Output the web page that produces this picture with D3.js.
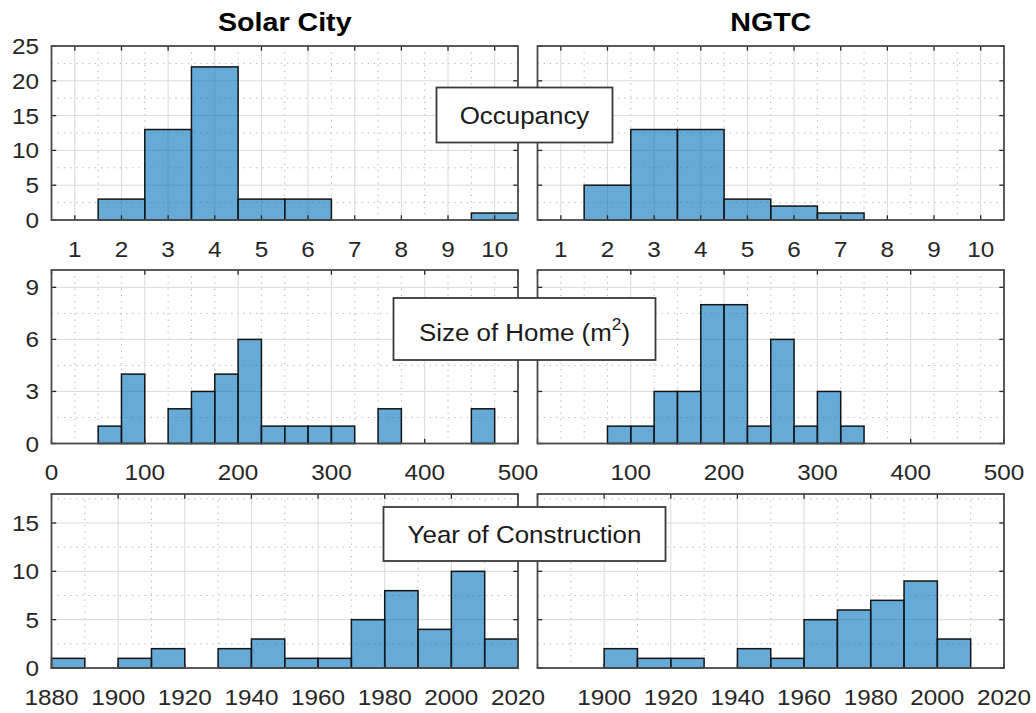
<!DOCTYPE html>
<html>
<head>
<meta charset="utf-8">
<script src="https://cdn.jsdelivr.net/npm/d3@7"></script>
<style>
  html, body { margin: 0; padding: 0; background: #ffffff; }
  svg { display: block; font-family: "Liberation Sans", Arial, Helvetica, sans-serif; }
</style>
</head>
<body>
<svg id="chart" width="1036" height="713"></svg>
<script>
// ---------------- data ----------------
const titles = ["Solar City", "NGTC"];
const rowLabels = ["Occupancy", "Size of Home (m", "Year of Construction"];

// Occupancy (bins centred on integers, width 1)
const occCenters = [1, 2, 3, 4, 5, 6, 7, 8, 9, 10];
const occSolar   = [0, 3, 13, 22, 3, 3, 0, 0, 0, 1];
const occNGTC    = [0, 5, 13, 13, 3, 2, 1, 0, 0, 0];
const occTicks   = [1, 2, 3, 4, 5, 6, 7, 8, 9, 10];
const occYTicks  = [0, 5, 10, 15, 20, 25];

// Size of home (bin left edges, width 25 m2)
const sizeEdges = [0, 25, 50, 75, 100, 125, 150, 175, 200, 225, 250, 275, 300, 325, 350, 375, 400, 425, 450, 475];
const sizeSolar = [0, 0, 1, 4, 0, 2, 3, 4, 6, 1, 1, 1, 1, 0, 2, 0, 0, 0, 2, 0];
const sizeNGTC  = [0, 0, 0, 1, 1, 3, 3, 8, 8, 1, 6, 1, 3, 1, 0, 0, 0, 0, 0, 0];
const sizeTicks = [0, 100, 200, 300, 400, 500];
const sizeYTicks = [0, 3, 6, 9];

// Year of construction (bin left edges, width 10 years)
const yearEdges = [1880, 1890, 1900, 1910, 1920, 1930, 1940, 1950, 1960, 1970, 1980, 1990, 2000, 2010];
const yearSolar = [1, 0, 1, 2, 0, 2, 3, 1, 1, 5, 8, 4, 10, 3];
const yearNGTC  = [0, 0, 2, 1, 1, 0, 2, 1, 5, 6, 7, 9, 3, 0];
const yearTicks = [1880, 1900, 1920, 1940, 1960, 1980, 2000, 2020];
const yearYTicks = [0, 5, 10, 15];

// ---------------- layout ----------------
const SX = 1.08;                       // horizontal text stretch of the reference
const colX = [[51.5, 518], [537.5, 1004]];
const rowY = [[46, 220], [270, 443.5], [494, 668]];
const boxCfg = [
  {cy: 115, w: 176, h: 55, base: 124},
  {cy: 329, w: 262, h: 62, base: 341},
  {cy: 534, w: 282, h: 54, base: 542.5}
];

const rows = [
  { xd: [0.5, 10.5], yd: [0, 25], ticks: occTicks, yticks: occYTicks,
    minorX: d3.range(1.5, 10.5, 1), minorY: [2.5, 7.5, 12.5, 17.5, 22.5],
    bins: occCenters.map(c => [c - 0.5, c + 0.5]), series: [occSolar, occNGTC] },
  { xd: [0, 500], yd: [0, 10], ticks: sizeTicks, yticks: sizeYTicks,
    minorX: d3.range(25, 500, 25).filter(v => v % 100 !== 0), minorY: [1.5, 4.5, 7.5],
    bins: sizeEdges.map(e => [e, e + 25]), series: [sizeSolar, sizeNGTC] },
  { xd: [1880, 2020], yd: [0, 18], ticks: yearTicks, yticks: yearYTicks,
    minorX: d3.range(1890, 2020, 20), minorY: [2.5, 7.5, 12.5, 17.5],
    bins: yearEdges.map(e => [e, e + 10]), series: [yearSolar, yearNGTC] }
];

const svg = d3.select("#chart");

function stretchedText(g, x, y, txt, opts) {
  const t = g.append("text")
    .attr("transform", `translate(${x},${y}) scale(${SX},1)`)
    .attr("text-anchor", opts.anchor || "middle")
    .attr("font-size", opts.size)
    .attr("font-weight", opts.weight || "normal")
    .attr("fill", opts.fill || "#262626")
    .text(txt);
  return t;
}

rows.forEach((row, ri) => {
  [0, 1].forEach(ci => {
    const [x0, x1] = colX[ci];
    const [y0, y1] = rowY[ri];
    const x = d3.scaleLinear().domain(row.xd).range([x0, x1]);
    const y = d3.scaleLinear().domain(row.yd).range([y1, y0]);
    const g = svg.append("g");

    // background
    g.append("rect").attr("x", x0).attr("y", y0).attr("width", x1 - x0).attr("height", y1 - y0)
      .attr("fill", "#ffffff");

    // minor grid (dotted)
    g.selectAll(".mgx").data(row.minorX).enter().append("line")
      .attr("x1", d => x(d)).attr("x2", d => x(d)).attr("y1", y0).attr("y2", y1)
      .attr("stroke", "#b0b0b0").attr("stroke-width", 1).attr("stroke-dasharray", "1.2,5");
    g.selectAll(".mgy").data(row.minorY).enter().append("line")
      .attr("x1", x0).attr("x2", x1).attr("y1", d => y(d)).attr("y2", d => y(d))
      .attr("stroke", "#b0b0b0").attr("stroke-width", 1).attr("stroke-dasharray", "1.2,5");

    // major grid
    g.selectAll(".gx").data(row.ticks).enter().append("line")
      .attr("x1", d => x(d)).attr("x2", d => x(d)).attr("y1", y0).attr("y2", y1)
      .attr("stroke", "#dadada").attr("stroke-width", 1);
    g.selectAll(".gy").data(row.yticks).enter().append("line")
      .attr("x1", x0).attr("x2", x1).attr("y1", d => y(d)).attr("y2", d => y(d))
      .attr("stroke", "#dadada").attr("stroke-width", 1);

    // bars
    const vals = row.series[ci];
    const barData = row.bins.map((b, i) => ({b, v: vals[i]})).filter(d => d.v > 0);
    g.selectAll(".bar").data(barData).enter().append("rect")
      .attr("x", d => x(d.b[0])).attr("width", d => x(d.b[1]) - x(d.b[0]))
      .attr("y", d => y(d.v)).attr("height", d => y(0) - y(d.v))
      .attr("fill", "#0072BD").attr("fill-opacity", 0.6)
      .attr("stroke", "#141414").attr("stroke-width", 1.5);

    // ticks (inside, all four sides)
    const TL = 4.7;
    row.ticks.forEach(t => {
      const xx = x(t);
      g.append("line").attr("x1", xx).attr("x2", xx).attr("y1", y1).attr("y2", y1 - TL)
        .attr("stroke", "#262626").attr("stroke-width", 1.3);
      g.append("line").attr("x1", xx).attr("x2", xx).attr("y1", y0).attr("y2", y0 + TL)
        .attr("stroke", "#262626").attr("stroke-width", 1.3);
    });
    row.yticks.forEach(t => {
      const yy = y(t);
      g.append("line").attr("x1", x0).attr("x2", x0 + TL).attr("y1", yy).attr("y2", yy)
        .attr("stroke", "#262626").attr("stroke-width", 1.3);
      g.append("line").attr("x1", x1).attr("x2", x1 - TL).attr("y1", yy).attr("y2", yy)
        .attr("stroke", "#262626").attr("stroke-width", 1.3);
    });

    // frame
    g.append("rect").attr("x", x0).attr("y", y0).attr("width", x1 - x0).attr("height", y1 - y0)
      .attr("fill", "none").attr("stroke", "#4a4a4a").attr("stroke-width", 1.8);

    // x tick labels (right-hand panels skip the leftmost label)
    const xl = row.ticks.filter(t => !(ci === 1 && t === row.xd[0]));
    xl.forEach(t => {
      stretchedText(g, x(t), y1 + 36.5, String(t), {size: 22.5});
    });
    // y tick labels (only left panels)
    if (ci === 0) {
      row.yticks.forEach(t => {
        stretchedText(g, x0 - 12.5, y(t) + 8, String(t), {size: 22.5, anchor: "end"});
      });
    }
    // column titles
    if (ri === 0) {
      stretchedText(g, (x0 + x1) / 2, 31, titles[ci], {size: 26.5, weight: "bold", fill: "#000000"});
    }
  });
});

// row label boxes
const cx = 524.5;
boxCfg.forEach((b, i) => {
  const g = svg.append("g");
  g.append("rect").attr("x", cx - b.w / 2).attr("y", b.cy - b.h / 2)
    .attr("width", b.w).attr("height", b.h)
    .attr("fill", "#ffffff").attr("stroke", "#3a3a3a").attr("stroke-width", 1.8);
  const t = g.append("text")
    .attr("transform", `translate(${cx},${b.base}) scale(${SX},1)`)
    .attr("text-anchor", "middle").attr("font-size", 24).attr("fill", "#1a1a1a");
  if (i === 1) {
    t.append("tspan").text(rowLabels[i]);
    t.append("tspan").attr("font-size", 16).attr("dy", -11).text("2");
    t.append("tspan").attr("dy", 11).text(")");
  } else {
    t.text(rowLabels[i]);
  }
});
</script>
</body>
</html>
